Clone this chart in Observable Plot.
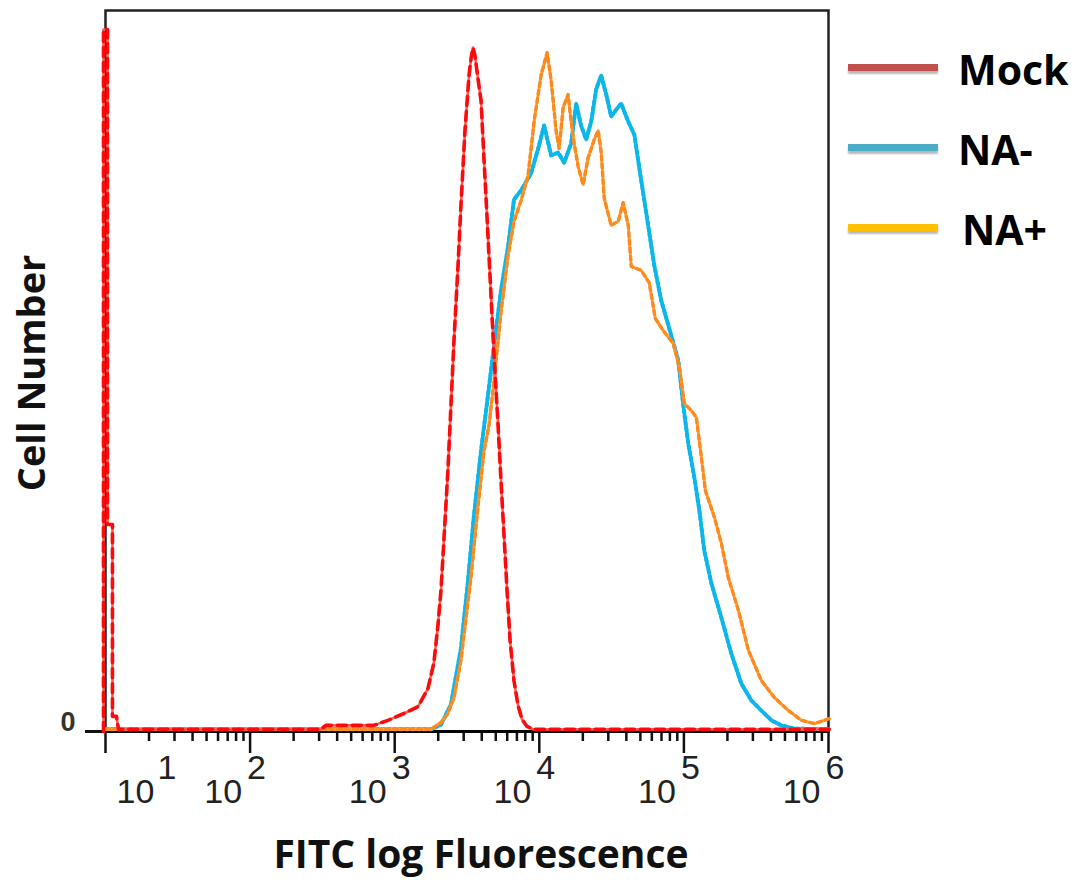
<!DOCTYPE html>
<html><head><meta charset="utf-8">
<script src="https://cdn.jsdelivr.net/npm/d3@7"></script>
<script src="https://cdn.jsdelivr.net/npm/@observablehq/plot@0.6"></script>
<style>
body{margin:0;background:#fff;}
#wrap{position:relative;width:1075px;height:881px;overflow:hidden;}
.legline{position:absolute;left:848px;width:90px;height:7px;box-shadow:0 3px 2px rgba(0,0,0,0.28);}
.legtext{position:absolute;left:958px;font-family:"Open Sans",sans-serif;font-weight:700;font-size:41px;line-height:1;color:#000;}
</style></head><body><div id="wrap"></div>
<script>
// ---- data (log10 fluorescence, cell count) ----
const mockLog = [0.986,0.986,1.014,1.014,1.048,1.048,1.076,1.090,2.489,2.524,2.856,2.953,3.064,3.161,3.230,3.271,3.299,3.320,3.348,3.368,3.389,3.410,3.438,3.458,3.486,3.514,3.528,3.541,3.555,3.576,3.597,3.618,3.638,3.659,3.687,3.715,3.735,3.756,3.777,3.798,3.825,3.853,3.881,3.915,3.957,6.007];
const mockCount = [0,194.7,194.7,57.4,57.4,4.2,4.2,0.6,0.6,1.7,1.7,3.1,5.0,6.9,11.9,19.1,29.4,39.1,58.5,72.4,90.4,108.5,129.3,145.9,166.7,182.0,186.7,189.7,187.5,181.1,175.0,158.4,143.1,126.5,104.3,84.9,69.6,54.4,39.1,25.2,14.1,7.2,3.3,1.4,0.6,0.6];

const naMinusLog = [1.000,3.251,3.320,3.389,3.458,3.507,3.548,3.597,3.645,3.687,3.735,3.784,3.825,3.874,3.943,3.992,4.033,4.082,4.130,4.172,4.220,4.255,4.289,4.324,4.359,4.393,4.428,4.463,4.497,4.532,4.566,4.615,4.657,4.705,4.753,4.795,4.843,4.913,4.961,4.996,5.030,5.072,5.107,5.141,5.190,5.259,5.328,5.397,5.467,5.536,5.605,5.674,5.764,6.007];
const naMinusCount = [0.6,0.6,1.9,7.5,23.0,41.9,59.9,77.9,93.2,107.1,122.3,134.5,147.6,150.1,154.8,161.7,168.1,159.8,160.6,157.8,163.1,174.2,168.1,164.2,169.2,178.1,182.0,176.7,170.6,172.5,174.2,169.2,165.6,152.8,140.4,129.3,119.6,109.8,102.9,90.4,79.9,70.5,61.3,50.2,41.1,31.6,21.6,13.3,8.6,5.8,3.1,1.7,0.8,0.6];

const naPlusLog = [1.000,3.251,3.320,3.368,3.410,3.458,3.528,3.576,3.618,3.652,3.687,3.735,3.784,3.825,3.874,3.922,3.964,4.012,4.054,4.082,4.116,4.137,4.165,4.199,4.220,4.241,4.269,4.303,4.338,4.380,4.407,4.428,4.449,4.497,4.546,4.580,4.615,4.636,4.705,4.760,4.802,4.857,4.927,4.969,5.003,5.052,5.086,5.121,5.148,5.211,5.259,5.307,5.377,5.446,5.536,5.626,5.723,5.813,5.903,5.972,6.007];
const naPlusCount = [0.6,0.6,2.5,5.0,9.4,19.7,43.0,62.4,77.9,84.9,97.4,116.2,132.0,141.5,147.3,154.2,169.2,182.0,188.3,180.6,166.7,161.7,173.1,176.7,169.2,163.1,156.7,151.7,159.2,164.2,166.7,160.6,147.9,140.4,141.5,146.7,140.4,129.0,127.9,124.5,114.6,111.2,107.6,101.0,91.0,89.0,87.1,76.0,66.9,59.4,52.2,42.7,33.6,22.5,14.1,9.4,5.8,3.1,2.2,3.1,3.6];

const decadeExponents = [1,2,3,4,5,6];
const minorMultipliers = [2,3,4,5,6,7,8,9];
const legendLabels = ["Mock","NA-","NA+"];
const legendColors = ["#c0504d","#4bacc6","#ffc000"];
const xTitle = "FITC log Fluorescence";
const yTitle = "Cell Number";
const yTickLabel = "0";

// ---- build tables ----
const rows = [];
[["Mock", mockLog, mockCount], ["NA-", naMinusLog, naMinusCount], ["NA+", naPlusLog, naPlusCount]]
  .forEach(([s, L, C]) => L.forEach((l, i) => rows.push({series: s, f: Math.pow(10, l), count: C[i]})));
const majorTicks = decadeExponents.map(e => Math.pow(10, e));
const minorTicks = [];
decadeExponents.slice(0, -1).forEach(e => minorMultipliers.forEach(m => minorTicks.push(m * Math.pow(10, e))));
const tickTable = majorTicks.map((v, i) => ({v, e: String(decadeExponents[i])}));

const sans = "'Open Sans', sans-serif";
const arial = "'Liberation Sans', Arial, sans-serif";
const ser = s => d => d.series === s;
const lab = {frameAnchor: "bottom", lineAnchor: "middle", fontSize: 34, fontFamily: arial, fill: "#222"};

const plot = Plot.plot({
  width: 1075, height: 881,
  marginLeft: 105, marginRight: 247, marginTop: 10, marginBottom: 150,
  x: {type: "log", domain: [10, 1e6], axis: null},
  y: {domain: [0, 200], axis: null},
  style: {background: "white", overflow: "visible"},
  marks: [
    Plot.frame({stroke: "#222", strokeWidth: 2.5}),
    Plot.axisX({ticks: minorTicks, tickSize: 10, tickFormat: () => "", label: null, stroke: "#111", strokeWidth: 2.5}),
    Plot.axisX({ticks: majorTicks, tickSize: 22, tickFormat: () => "", label: null, stroke: "#111", strokeWidth: 2.5}),
    Plot.axisY({ticks: [0], tickSize: 20, tickFormat: () => "", label: null, stroke: "#111", strokeWidth: 3}),
    Plot.ruleY([0], {stroke: "#000", strokeWidth: 3}),
    // NA- (cyan)
    Plot.line(rows, {filter: ser("NA-"), x: "f", y: "count", stroke: "#3cc8f2", strokeWidth: 3.5}),
    Plot.line(rows, {filter: ser("NA-"), x: "f", y: "count", stroke: "#0bb6ea", strokeWidth: 4, strokeDasharray: "3,3"}),
    // NA+ (orange)
    Plot.line(rows, {filter: ser("NA+"), x: "f", y: "count", stroke: "#ffa04a", strokeWidth: 2.8}),
    Plot.line(rows, {filter: ser("NA+"), x: "f", y: "count", stroke: "#ff8a1a", strokeWidth: 3.4, strokeDasharray: "4,4"}),
    // Mock (red)
    Plot.line(rows, {filter: ser("Mock"), x: "f", y: "count", stroke: "#ff5c5c", strokeWidth: 2.6}),
    Plot.line(rows, {filter: ser("Mock"), x: "f", y: "count", stroke: "#ff0a0a", strokeWidth: 3.6, strokeDasharray: "9,6"}),
    // x tick labels: base "10" and exponent
    Plot.text(tickTable.slice(0, 1), {...lab, x: "v", text: () => "10", textAnchor: "start", dx: 11, dy: 61}),
    Plot.text(tickTable.slice(0, 1), {...lab, x: "v", text: "e", textAnchor: "start", dx: 52, dy: 37}),
    Plot.text(tickTable.slice(1), {...lab, x: "v", text: () => "10", textAnchor: "end", dx: -8, dy: 61}),
    Plot.text(tickTable.slice(1), {...lab, x: "v", text: "e", textAnchor: "start", dx: -3, dy: 37}),
    // y tick label
    Plot.text([0], {y: d => d, text: () => yTickLabel, frameAnchor: "left", textAnchor: "end", lineAnchor: "middle", dx: -30, dy: -9, fontSize: 27, fontWeight: 700, fontFamily: arial, fill: "#333"}),
    // axis titles
    Plot.text([xTitle], {frameAnchor: "bottom", lineAnchor: "middle", textAnchor: "middle", dy: 124, dx: 14, fontSize: 39, fontWeight: 700, fontFamily: sans, fill: "#111"}),
    Plot.text([yTitle], {frameAnchor: "left", lineAnchor: "middle", textAnchor: "middle", rotate: -90, dx: -73, dy: 2, fontSize: 38, fontWeight: 700, fontFamily: sans, fill: "#111"})
  ]
});
const wrap = document.getElementById("wrap");
wrap.appendChild(plot);

// legend (HTML overlay in right margin)
legendLabels.forEach((label, i) => {
  const cy = 68 + i * 80;
  const ln = document.createElement("div");
  ln.className = "legline";
  ln.style.top = (cy - 4) + "px";
  ln.style.background = legendColors[i];
  wrap.appendChild(ln);
  const tx = document.createElement("div");
  tx.className = "legtext";
  tx.textContent = label;
  tx.style.top = (cy - 19) + "px";
  if (i === 2) tx.style.left = "962px";
  wrap.appendChild(tx);
});
</script>
</body></html>
